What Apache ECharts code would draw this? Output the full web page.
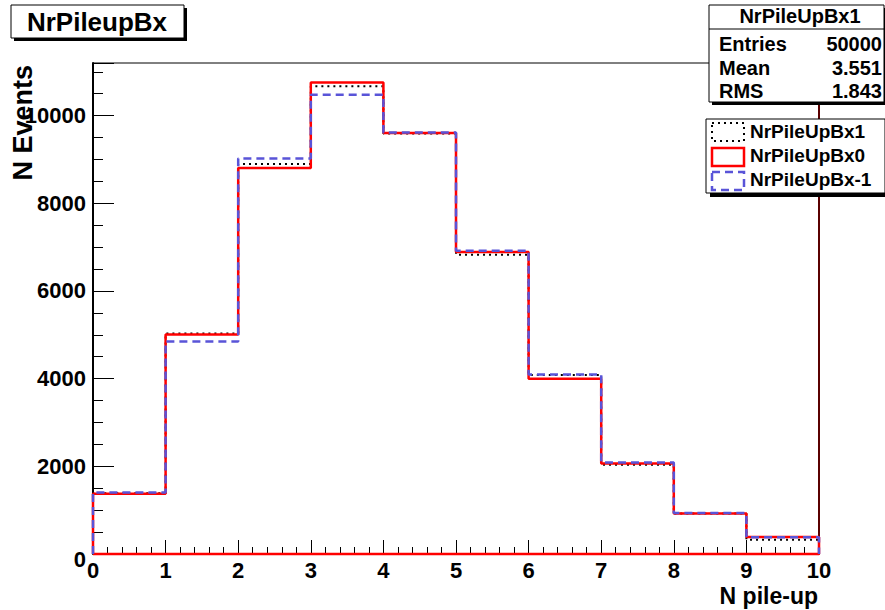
<!DOCTYPE html>
<html>
<head>
<meta charset="utf-8">
<title>NrPileupBx</title>
<script src="https://cdn.jsdelivr.net/npm/echarts@6/dist/echarts.min.js"></script>
<style>
html, body { margin: 0; padding: 0; background: #fff; }
#main { width: 885px; height: 610px; }
</style>
</head>
<body>
<div id="main"></div>
<script>
// bin edges of the histogram (10 bins, width 1)
var binEdges = [0, 1, 2, 3, 4, 5, 6, 7, 8, 9, 10];

// bin contents
var pileUpBx1  = [1385, 5032, 8896, 10667, 9590, 6827, 4085, 2037, 925, 326];
var pileUpBx0  = [1375, 5009, 8805, 10757, 9603, 6889, 3999, 2067, 926, 388];
var pileUpBxm1 = [1405, 4850, 9024, 10477, 9612, 6918, 4097, 2089, 935, 380];

var seriesNames = ['NrPileUpBx1', 'NrPileUpBx0', 'NrPileUpBx-1'];

// stats box
var statsTitle = 'NrPileUpBx1';
var statsLabels = ['Entries', 'Mean', 'RMS'];
var statsValues = ['50000', '3.551', '1.843'];

var yMax = 11200;

var FONT = '"Liberation Sans", Arial, Helvetica, sans-serif';

var lineStyles = [
  { color: '#000000', width: 2, type: [2, 4] },
  { color: '#ff0000', width: 2.5, type: 'solid' },
  { color: '#5954d8', width: 2.5, type: [8, 5] }
];

// turn bin contents into a step outline (starts and ends on the baseline)
function histOutline(values, closeBase) {
  var last = binEdges.length - 1;
  var pts = [[binEdges[0], 0]];
  for (var i = 0; i < values.length; i++) {
    pts.push([binEdges[i], values[i]]);
  }
  pts.push([binEdges[last], values[values.length - 1]]);
  pts.push([binEdges[last], 0]);
  if (closeBase) pts.push([binEdges[0], 0]);
  return pts;
}

function histSeries(idx, values, closeBase) {
  return {
    name: seriesNames[idx],
    type: 'line',
    step: 'end',
    data: histOutline(values, closeBase),
    symbol: 'none',
    clip: false,
    silent: true,
    xAxisIndex: 0,
    yAxisIndex: 0,
    z: 5,
    lineStyle: lineStyles[idx]
  };
}

function boldText(x, y, text, size, align, extra) {
  var el = {
    type: 'text',
    x: x,
    y: y,
    z: 100,
    style: {
      text: text,
      font: 'bold ' + size + 'px ' + FONT,
      fill: '#000',
      align: align || 'left',
      verticalAlign: 'middle'
    }
  };
  if (extra) for (var k in extra) el[k] = extra[k];
  return el;
}

function box(x, y, w, h, style) {
  return { type: 'rect', z: 100, shape: { x: x, y: y, width: w, height: h }, style: style };
}

var graphics = [];

// title box with shadow
graphics.push(box(14, 8, 173, 33, { fill: '#000' }));
graphics.push(box(11, 5, 173, 33, { fill: '#fff', stroke: '#000', lineWidth: 1 }));
graphics.push(boldText(97, 21.5, 'NrPileupBx', 26, 'center'));

// stats box
graphics.push(box(712, 8, 175, 97, { fill: '#000' }));
graphics.push(box(709, 5, 175, 97, { fill: '#fff', stroke: '#000', lineWidth: 1 }));
graphics.push({ type: 'line', z: 100, shape: { x1: 709, y1: 29, x2: 884, y2: 29 }, style: { stroke: '#000', lineWidth: 1 } });
graphics.push(boldText(800, 16, statsTitle, 20, 'center'));
var statsY = [44, 67.5, 91];
for (var s = 0; s < statsLabels.length; s++) {
  graphics.push(boldText(719, statsY[s], statsLabels[s], 20, 'left'));
  graphics.push(boldText(882, statsY[s], statsValues[s], 20, 'right'));
}

// legend box
graphics.push(box(710, 123, 179, 74, { fill: '#000' }));
graphics.push(box(706, 119, 179, 74, { fill: '#fff', stroke: '#000', lineWidth: 1 }));
var legendBoxY = [123, 148, 172];
var legendTextY = [131, 155, 179];
for (var l = 0; l < seriesNames.length; l++) {
  var ls = lineStyles[l];
  graphics.push(box(712, legendBoxY[l], 32, 18, {
    fill: 'none',
    stroke: ls.color,
    lineWidth: ls.width,
    lineDash: ls.type === 'solid' ? null : ls.type
  }));
  graphics.push(boldText(750, legendTextY[l], seriesNames[l], 19, 'left'));
}

// axis titles
graphics.push(boldText(818, 595.5, 'N pile-up', 23, 'right'));
graphics.push(boldText(23, 65, 'N Events', 27, 'right', { rotation: Math.PI / 2 }));

var labelStyle = { color: '#000', fontSize: 22, fontWeight: 'bold', fontFamily: FONT };

var series = [
  histSeries(0, pileUpBx1, false),
  histSeries(1, pileUpBx0, true),
  histSeries(2, pileUpBxm1, false)
];
// bottom frame edge
series[0].markLine = {
  silent: true,
  symbol: 'none',
  label: { show: false },
  lineStyle: { color: '#000', width: 2, type: 'solid' },
  emphasis: { disabled: true },
  data: [{ yAxis: 0 }]
};

var option = {
  animation: false,
  backgroundColor: '#fff',
  grid: {
    left: 93, right: 66, top: 63, bottom: 56,
    show: true, borderColor: '#000', borderWidth: 1,
    backgroundColor: 'transparent',
    containLabel: false,
    outerBoundsMode: 'none'
  },
  xAxis: [{
    type: 'value',
    min: 0, max: 10, interval: 1,
    position: 'bottom',
    axisLine: { show: false },
    axisTick: { show: true, inside: true, length: 14, lineStyle: { color: '#000', width: 1 } },
    minorTick: { show: true, splitNumber: 5, length: 7, lineStyle: { color: '#000', width: 1 } },
    axisLabel: Object.assign({ margin: 5 }, labelStyle),
    splitLine: { show: false },
    minorSplitLine: { show: false }
  }],
  yAxis: [{
    // fine ticks every 500
    type: 'value',
    min: 0, max: yMax, interval: 500,
    position: 'left',
    axisLine: { show: true, onZero: false, lineStyle: { color: '#000', width: 2 } },
    axisTick: { show: true, inside: true, length: 10, lineStyle: { color: '#000', width: 1 } },
    axisLabel: Object.assign({
      margin: 7,
      formatter: function (v) {
        if (v === 0) return '{z|0}';
        return v % 2000 === 0 ? String(v) : '';
      },
      rich: { z: { padding: [10, 0, 0, 0], color: '#000', fontSize: 22, fontWeight: 'bold', fontFamily: FONT } }
    }, labelStyle),
    splitLine: { show: false }
  }, {
    // long ticks every 2000
    type: 'value',
    min: 0, max: yMax, interval: 2000,
    position: 'left',
    axisLine: { show: false },
    axisTick: { show: true, inside: true, length: 21, lineStyle: { color: '#000', width: 1 } },
    axisLabel: { show: false },
    splitLine: { show: false }
  }, {
    // right frame edge
    type: 'value',
    min: 0, max: yMax,
    position: 'right',
    axisLine: { show: true, onZero: false, lineStyle: { color: '#5a0000', width: 2 } },
    axisTick: { show: false },
    axisLabel: { show: false },
    splitLine: { show: false }
  }],
  series: series,
  graphic: graphics
};

var chart = echarts.init(document.getElementById('main'), null, { renderer: 'svg' });
chart.setOption(option);
</script>
</body>
</html>
